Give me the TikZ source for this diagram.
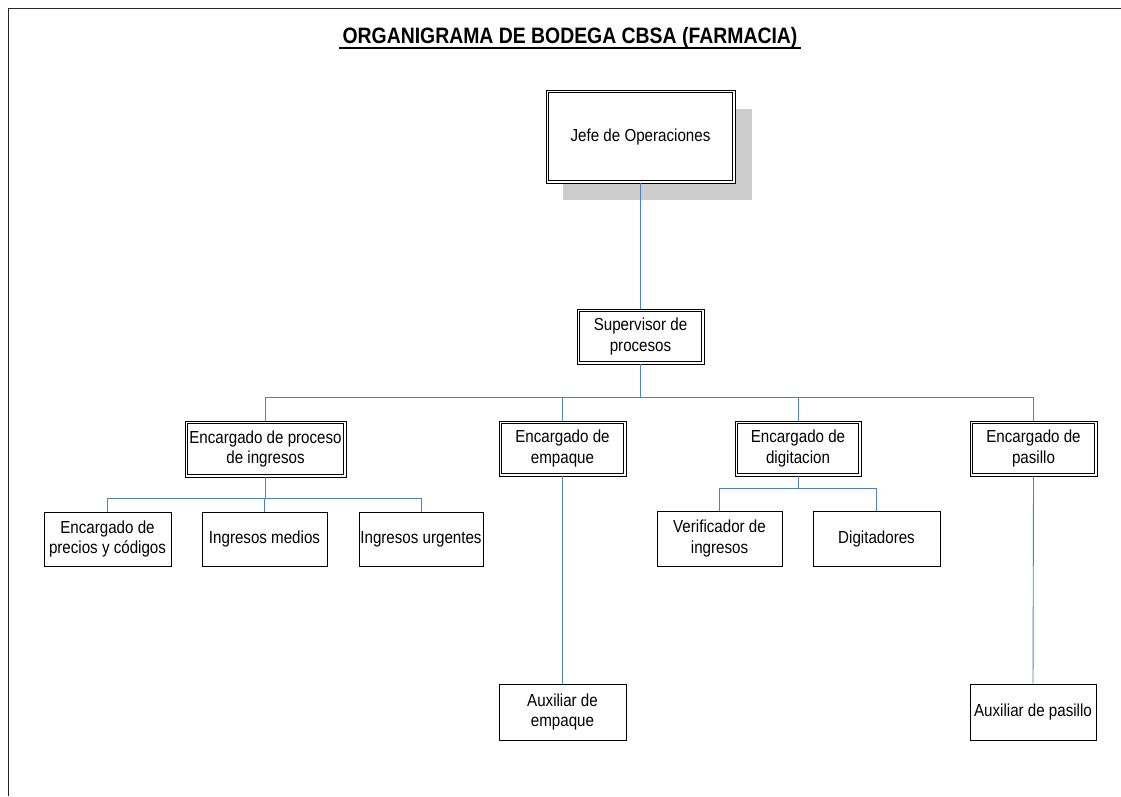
\documentclass[tikz,border=0pt]{standalone}
\usepackage{fontspec}
\setmainfont{Liberation Sans}[FakeStretch=0.87]
\definecolor{conn}{HTML}{4F81BD}
\begin{document}
\begin{tikzpicture}[x=1pt,y=-1pt,
  box/.style={draw=black, fill=white, line width=0.9pt, inner sep=0pt, align=center,
    font=\fontsize{17.4}{20.5}\selectfont},
  dbox/.style={box, line width=0.7pt},
  inner/.style={draw=black, line width=1.4pt},
  link/.style={draw=conn, line width=0.9pt}]
\useasboundingbox (0,0) rectangle (1121,796);
\fill[white] (0,0) rectangle (1121,796);
% page frame
\draw[black!85, line width=1.8pt] (8.5,796) -- (8.5,8.5) -- (1121,8.5);
% title
\node (title) at (570,38) {\fontsize{22.3}{26}\selectfont\bfseries ORGANIGRAMA DE BODEGA CBSA (FARMACIA)};
\draw[line width=1.8pt] (title.south west) ++(0,-4) -- ([yshift=4pt]title.south east);
% shadow
\fill[black!20] (563,109) rectangle (752,200);
% nodes
\node[dbox, minimum width=189, minimum height=93] (jefe) at (640.5,136.5) {Jefe de Operaciones};
\node[dbox, minimum width=127, minimum height=55] (sup) at (640.5,336.5) {Supervisor de\\procesos};
\node[dbox, minimum width=161, minimum height=56] (proc) at (265.5,449) {Encargado de proceso\\de ingresos};
\node[dbox, minimum width=127, minimum height=55] (emp) at (562.5,448.5) {Encargado de\\empaque};
\node[dbox, minimum width=126, minimum height=55] (dig) at (798,448.5) {Encargado de\\digitacion};
\node[dbox, minimum width=127, minimum height=55] (pas) at (1033.5,448.5) {Encargado de\\pasillo};
\foreach \n in {jefe,sup,proc,emp,dig,pas}
  \draw[inner] ([shift={(2.8,2.8)}]\n.north west) rectangle ([shift={(-2.8,-2.8)}]\n.south east);
\node[box, minimum width=127, minimum height=54] (prec) at (107.5,539) {Encargado de\\precios y códigos};
\node[box, minimum width=125, minimum height=54] (med) at (264.5,539) {Ingresos medios};
\node[box, minimum width=124, minimum height=54] (urg) at (421,539) {Ingresos urgentes};
\node[box, minimum width=125, minimum height=55] (ver) at (719.5,538.5) {Verificador de\\ingresos};
\node[box, minimum width=127, minimum height=55] (digs) at (876.5,538.5) {Digitadores};
\node[box, minimum width=127, minimum height=56] (auxe) at (562.5,712) {Auxiliar de\\empaque};
\node[box, minimum width=126, minimum height=56] (auxp) at (1033,712) {Auxiliar de pasillo};
% bus levels
\coordinate (bus1) at (0,397);
\coordinate (bus2) at (0,498);
\coordinate (bus3) at (0,488);
% connectors
\draw[link] (jefe.south) -- (sup.north);
\foreach \c in {proc,emp,dig,pas}
  \draw[link] (sup.south) -- (sup.south |- bus1) -| (\c.north);
\foreach \c in {prec,med,urg}
  \draw[link] (proc.south) -- (proc.south |- bus2) -| (\c.north);
\foreach \c in {ver,digs}
  \draw[link] (dig.south) -- (dig.south |- bus3) -| (\c.north);
\draw[link] (emp.south) -- (auxe.north);
\draw[link] (pas.south) -- (auxp.north);
\end{tikzpicture}
\end{document}
